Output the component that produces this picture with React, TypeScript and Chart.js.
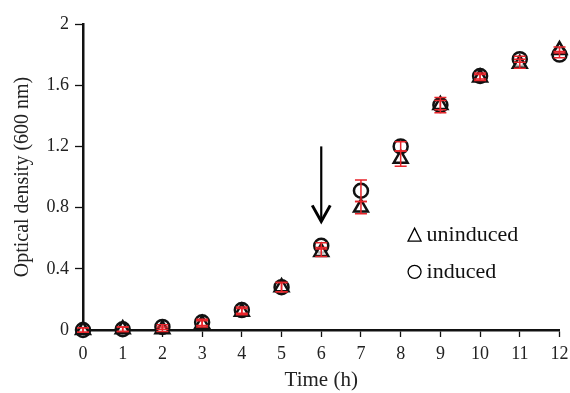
import React, { useEffect, useRef } from "react";
import { Chart, registerables } from "chart.js";

Chart.register(...registerables);

const timeHours = [0, 1, 2, 3, 4, 5, 6, 7, 8, 9, 10, 11, 12];
const uninduced = [0.0, 0.005, 0.005, 0.04, 0.12, 0.28, 0.51, 0.8, 1.12, 1.47, 1.65, 1.74, 1.83];
const uninducedErr = [0.015, 0.015, 0.015, 0.02, 0.02, 0.03, 0.03, 0.04, 0.05, 0.03, 0.02, 0.03, 0.02];
const induced = [0.0, 0.005, 0.02, 0.05, 0.13, 0.28, 0.55, 0.91, 1.2, 1.47, 1.66, 1.77, 1.8];
const inducedErr = [0.015, 0.015, 0.015, 0.02, 0.02, 0.03, 0.02, 0.07, 0.03, 0.05, 0.02, 0.02, 0.02];
const yTicks = [0, 0.4, 0.8, 1.2, 1.6, 2];
const arrowX = 6;
const arrowFrom = 1.2;
const arrowTo = 0.71;
const legendLabels = ["uninduced", "induced"];

const FONT = "'Liberation Serif', 'DejaVu Serif', serif";

const errorBarPlugin = {
  id: "errorBars",
  afterDatasetsDraw(chart: any) {
    const ctx = chart.ctx;
    const xs = chart.scales.x;
    const ys = chart.scales.y;
    const sets = [
      { vals: uninduced, errs: uninducedErr },
      { vals: induced, errs: inducedErr },
    ];
    ctx.save();
    ctx.strokeStyle = "#e8252b";
    ctx.lineWidth = 1.5;
    sets.forEach((s) => {
      s.vals.forEach((v, i) => {
        const px = xs.getPixelForValue(timeHours[i]);
        const top = ys.getPixelForValue(v + s.errs[i]);
        const bot = ys.getPixelForValue(v - s.errs[i]);
        ctx.beginPath();
        ctx.moveTo(px, top);
        ctx.lineTo(px, bot);
        ctx.moveTo(px - 6, top);
        ctx.lineTo(px + 6, top);
        ctx.moveTo(px - 6, bot);
        ctx.lineTo(px + 6, bot);
        ctx.stroke();
      });
    });
    ctx.restore();
  },
  afterDraw(chart: any) {
    const ctx = chart.ctx;
    const xs = chart.scales.x;
    const ys = chart.scales.y;
    // arrow
    const ax = xs.getPixelForValue(arrowX);
    const y1 = ys.getPixelForValue(arrowFrom);
    const y2 = ys.getPixelForValue(arrowTo);
    ctx.save();
    ctx.strokeStyle = "#000";
    ctx.lineWidth = 2.2;
    ctx.beginPath();
    ctx.moveTo(ax, y1);
    ctx.lineTo(ax, y2);
    ctx.stroke();
    ctx.lineWidth = 3;
    ctx.beginPath();
    ctx.moveTo(ax - 9, y2 - 16);
    ctx.lineTo(ax, y2);
    ctx.lineTo(ax + 9, y2 - 16);
    ctx.stroke();
    // legend
    const lx = xs.getPixelForValue(8.35);
    const ly1 = ys.getPixelForValue(0.62);
    const ly2 = ys.getPixelForValue(0.38);
    ctx.lineWidth = 1.3;
    ctx.beginPath();
    ctx.moveTo(lx, ly1 - 7);
    ctx.lineTo(lx + 6.5, ly1 + 6);
    ctx.lineTo(lx - 6.5, ly1 + 6);
    ctx.closePath();
    ctx.stroke();
    ctx.beginPath();
    ctx.arc(lx, ly2, 6.5, 0, Math.PI * 2);
    ctx.stroke();
    ctx.fillStyle = "#111";
    ctx.font = `22px ${FONT}`;
    ctx.textBaseline = "middle";
    ctx.textAlign = "left";
    ctx.fillText(legendLabels[0], lx + 12, ly1);
    ctx.fillText(legendLabels[1], lx + 12, ly2);
    ctx.restore();
  },
};

export default function App() {
  const ref = useRef<HTMLCanvasElement>(null);
  useEffect(() => {
    if (!ref.current) return;
    const chart = new Chart(ref.current, {
      type: "scatter",
      data: {
        datasets: [
          {
            label: legendLabels[0],
            data: timeHours.map((t, i) => ({ x: t, y: uninduced[i] })),
            pointStyle: "triangle",
            pointRadius: 8,
            borderColor: "#111",
            borderWidth: 2.5,
            backgroundColor: "rgba(255,255,255,0.7)",
            clip: false as any,
          },
          {
            label: legendLabels[1],
            data: timeHours.map((t, i) => ({ x: t, y: induced[i] })),
            pointStyle: "circle",
            pointRadius: 7,
            borderColor: "#111",
            borderWidth: 2.5,
            backgroundColor: "rgba(255,255,255,0.7)",
            clip: false as any,
          },
        ],
      },
      options: {
        animation: false,
        responsive: false,
        layout: { padding: { top: 24, right: 9, left: 0, bottom: 0 } },
        plugins: { legend: { display: false }, tooltip: { enabled: false } },
        scales: {
          x: {
            type: "linear",
            min: 0,
            max: 12,
            afterFit: (s: any) => { s.height = 63; s.paddingLeft = 0; s.paddingRight = 0; },
            afterBuildTicks: (s: any) => { s.ticks = timeHours.map((v) => ({ value: v })); },
            grid: { display: true, drawOnChartArea: false, tickLength: 7, tickColor: "#111", tickWidth: 1.3 },
            border: { color: "#111", width: 2.5 },
            ticks: { color: "#222", font: { family: FONT, size: 18 }, padding: 6, maxRotation: 0 },
            title: { display: true, text: "Time (h)", color: "#222", font: { family: FONT, size: 21 }, padding: { top: 0, bottom: 0 } },
          },
          y: {
            type: "linear",
            min: 0,
            max: 2,
            afterFit: (s: any) => { s.width = 83; s.paddingTop = 0; s.paddingBottom = 0; },
            afterBuildTicks: (s: any) => { s.ticks = yTicks.map((v) => ({ value: v })); },
            grid: { display: true, drawOnChartArea: false, tickLength: 8, tickColor: "#111", tickWidth: 1.3 },
            border: { color: "#111", width: 2.5 },
            ticks: { color: "#222", font: { family: FONT, size: 18 }, padding: 6, callback: (v: any) => String(v) },
            title: { display: true, text: "Optical density (600 nm)", color: "#222", font: { family: FONT, size: 20 }, padding: { top: 11, bottom: 0 } },
          },
        },
      },
      plugins: [errorBarPlugin],
    });
    return () => chart.destroy();
  }, []);
  return (
    <div style={{ position: "absolute", left: 0, top: 0, width: 570, height: 393, background: "#fff" }}>
      <canvas ref={ref} width={570} height={393} style={{ width: 570, height: 393 }} />
    </div>
  );
}
